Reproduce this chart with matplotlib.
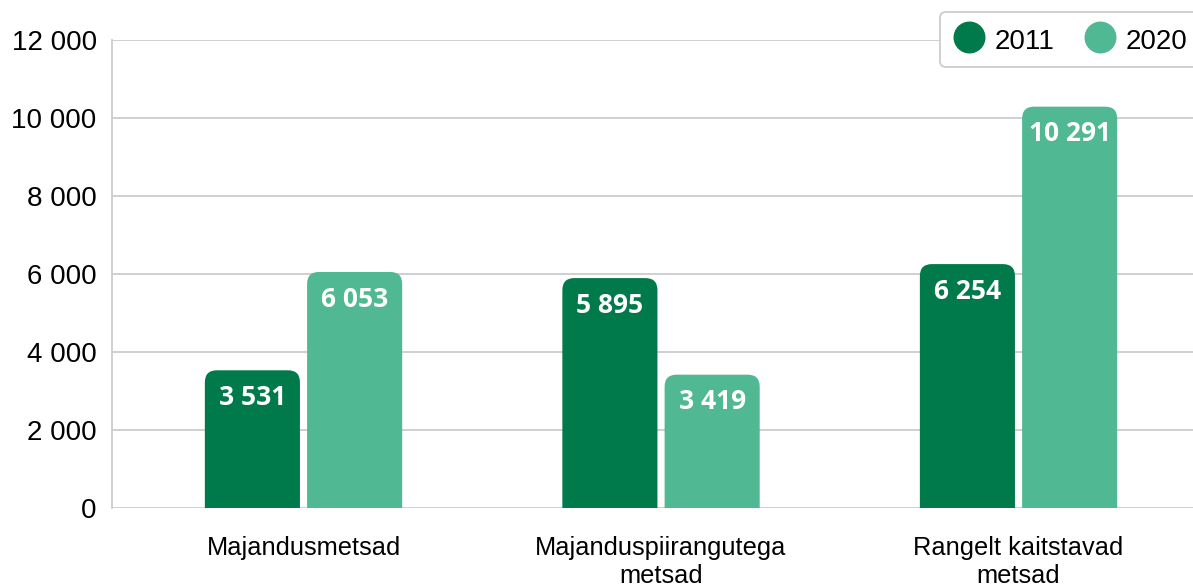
import matplotlib.pyplot as plt
from matplotlib.patches import FancyBboxPatch
from matplotlib.lines import Line2D

categories = ["Majandusmetsad", "Majanduspiirangutega\nmetsad", "Rangelt kaitstavad\nmetsad"]
years = ["2011", "2020"]
vals_2011 = [3531, 5895, 6254]
vals_2020 = [6053, 3419, 10291]
yticks = [0, 2000, 4000, 6000, 8000, 10000, 12000]
colors = ["#007A4B", "#50B892"]


def fmt(v):
    return "{:,}".format(v).replace(",", " ")


plt.rcParams['font.family'] = ['Liberation Sans', 'DejaVu Sans']
fig = plt.figure(figsize=(11.93, 5.88), dpi=100)
ax = fig.add_axes([112 / 1193, 80 / 588, 1 - 112 / 1193, 468 / 588])

ax.set_xlim(-0.5357, 2.488)
ax.set_ylim(0, 12000)

width = 0.266
offset = 0.143
xpp = (2.488 + 0.5357) / 1081
ypp = 12000 / 468
r = 12 * xpp
aspect = ypp / xpp

for i, series in enumerate([vals_2011, vals_2020]):
    sign = -1 if i == 0 else 1
    for j, v in enumerate(series):
        xc = j + sign * offset
        p = FancyBboxPatch((xc - width / 2, -800), width, v + 800,
                           boxstyle="round,pad=0,rounding_size=%f" % r,
                           mutation_aspect=aspect, fc=colors[i], ec="none",
                           zorder=3)
        ax.add_patch(p)
        ax.annotate(fmt(v), (xc, v), xytext=(0, -19.5), textcoords="offset points",
                    ha="center", va="center", color="white", fontsize=19,
                    fontweight="bold", family=["Open Sans", "DejaVu Sans"], zorder=4)

ax.set_yticks(yticks)
ax.set_yticklabels([fmt(t) for t in yticks], fontsize=20)
ax.set_xticks(range(len(categories)))
ax.set_xticklabels(categories, fontsize=18.3, linespacing=1.2)
ax.tick_params(axis="y", length=0, pad=11)
ax.tick_params(axis="x", length=0, pad=20)
ax.grid(axis="y", color="#cccccc", linewidth=1.3, zorder=0)
ax.set_axisbelow(True)
for s in ["top", "right", "bottom"]:
    ax.spines[s].set_visible(False)
ax.spines["left"].set_color("#cccccc")
ax.spines["left"].set_linewidth(1.3)

handles = [Line2D([], [], marker="o", ls="none", markersize=22, color=c) for c in colors]
leg = fig.legend(handles, years, loc="upper left", bbox_to_anchor=(940 / 1193, 1 - 12 / 588),
                 ncol=2, fontsize=20, frameon=True, handletextpad=0.32, columnspacing=1.05,
                 borderpad=0.45, handlelength=1.2, handleheight=1.25, fancybox=True,
                 borderaxespad=0)
leg.get_frame().set_edgecolor("#cccccc")
leg.get_frame().set_linewidth(1.3)
leg.get_frame().set_alpha(1)

fig.savefig("out.png", dpi=100)
